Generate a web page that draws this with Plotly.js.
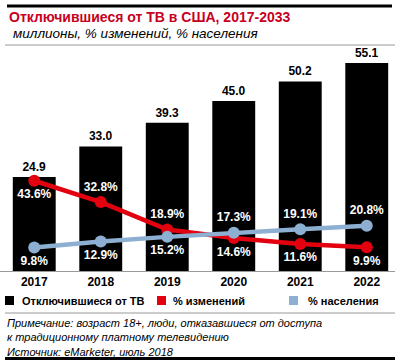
<!DOCTYPE html>
<html>
<head>
<meta charset="utf-8">
<script src="https://cdn.plot.ly/plotly-3.0.1.min.js"></script>
<style>
html,body{margin:0;padding:0;background:#fff;}
#chart{width:400px;height:360px;}
</style>
</head>
<body>
<div id="chart"></div>
<script>
var years = ['2017', '2018', '2019', '2020', '2021', '2022'];
var cordCutters = [24.9, 33.0, 39.3, 45.0, 50.2, 55.1];
var pctChange = [43.6, 32.8, 18.9, 14.6, 11.6, 9.9];
var pctPopulation = [9.8, 12.9, 15.2, 17.3, 19.1, 20.8];
var changeLabelPos = ['bottom center', 'top center', 'top center', 'bottom center', 'bottom center', 'bottom center'];
var popLabelPos = ['bottom center', 'bottom center', 'bottom center', 'top center', 'top center', 'top center'];

var FONT = 'Liberation Sans, Arial, sans-serif';
var RED = '#e3000f';
var BLUE = '#8db0d2';

var traces = [
  {
    type: 'bar', x: years, y: cordCutters, name: 'Отключившиеся от ТВ',
    marker: {color: '#000000'},
    text: cordCutters.map(function(v){return v.toFixed(1);}),
    textposition: 'outside', cliponaxis: false,
    textfont: {family: FONT, size: 12, color: '#000', weight: 'bold'},
    hoverinfo: 'none', showlegend: false
  },
  {
    type: 'scatter', mode: 'lines+markers+text', x: years, y: pctChange, yaxis: 'y2',
    name: '% изменений',
    line: {color: RED, width: 4.5},
    marker: {color: RED, size: 12},
    text: pctChange.map(function(v){return v.toFixed(1) + '%';}),
    textposition: changeLabelPos, cliponaxis: false,
    textfont: {family: FONT, size: 12, color: '#fff', weight: 'bold'},
    hoverinfo: 'none', showlegend: false
  },
  {
    type: 'scatter', mode: 'lines+markers+text', x: years, y: pctPopulation, yaxis: 'y2',
    name: '% населения',
    line: {color: BLUE, width: 4.5},
    marker: {color: BLUE, size: 12},
    text: pctPopulation.map(function(v){return v.toFixed(1) + '%';}),
    textposition: popLabelPos, cliponaxis: false,
    textfont: {family: FONT, size: 12, color: '#fff', weight: 'bold'},
    hoverinfo: 'none', showlegend: false
  }
];

var legendItems = [
  {label: 'Отключившиеся от ТВ', color: '#000000', x0: 5, tx: 20},
  {label: '% изменений', color: RED, x0: 157, tx: 171},
  {label: '% населения', color: BLUE, x0: 289, tx: 306}
];

var W = 400, H = 360;
var ML = 1, MR = 0, MT = 50, MB = 89;
var PW = W - ML - MR, PH = H - MT - MB;
function px(x){return (x - ML) / PW;}
function py(y){return (H - MB - y) / PH;}

var shapes = [
  {type: 'line', xref: 'paper', yref: 'paper', x0: px(7), x1: px(392), y0: py(6), y1: py(6), line: {color: '#000', width: 3}},
  {type: 'line', xref: 'paper', yref: 'paper', x0: px(5), x1: px(395), y0: py(45), y1: py(45), line: {color: '#999', width: 1}},
  {type: 'line', xref: 'paper', yref: 'paper', x0: px(0), x1: px(395), y0: py(271.5), y1: py(271.5), line: {color: '#999', width: 1}},
  {type: 'line', xref: 'paper', yref: 'paper', x0: px(5), x1: px(395), y0: py(313), y1: py(313), line: {color: '#999', width: 1}},
  {type: 'line', xref: 'paper', yref: 'paper', x0: px(5), x1: px(395), y0: py(358.5), y1: py(358.5), line: {color: '#000', width: 3}}
];
var annotations = [
  {xref: 'paper', yref: 'paper', x: px(7), y: py(16.5), xanchor: 'left', yanchor: 'middle', showarrow: false,
   text: '<b>Отключившиеся от ТВ в США, 2017-2033</b>', font: {family: FONT, size: 14, color: '#c8001e'}},
  {xref: 'paper', yref: 'paper', x: px(11), y: py(33), xanchor: 'left', yanchor: 'middle', showarrow: false,
   text: '<i>миллионы, % изменений, % населения</i>', font: {family: FONT, size: 13.5, color: '#000'}},
  {xref: 'paper', yref: 'paper', x: px(5), y: py(337.5), xanchor: 'left', yanchor: 'middle', showarrow: false, align: 'left',
   text: '<i>Примечание: возраст 18+, люди, отказавшиеся от доступа<br>к традиционному платному телевидению<br>Источник: eMarketer, июль 2018</i>',
   font: {family: FONT, size: 11, color: '#000'}}
];
legendItems.forEach(function(it){
  shapes.push({type: 'rect', xref: 'paper', yref: 'paper', x0: px(it.x0), x1: px(it.x0 + 9), y0: py(305), y1: py(296),
    fillcolor: it.color, line: {width: 0}});
  annotations.push({xref: 'paper', yref: 'paper', x: px(it.tx), y: py(300.5), xanchor: 'left', yanchor: 'middle', showarrow: false,
    text: '<b>' + it.label + '</b>', font: {family: FONT, size: 11, color: '#000'}});
});

var layout = {
  width: W, height: H,
  margin: {l: ML, r: MR, t: MT, b: MB},
  paper_bgcolor: '#fff', plot_bgcolor: '#fff',
  showlegend: false,
  bargap: 0.355,
  xaxis: {type: 'category', range: [-0.5, 5.5], showgrid: false, zeroline: false, showline: false,
    ticks: '', ticklabelstandoff: 2, tickfont: {family: FONT, size: 12, color: '#000', weight: 'bold'}, fixedrange: true},
  yaxis: {range: [0, 58.54], visible: false, showgrid: false, zeroline: false, fixedrange: true},
  yaxis2: {range: [-2.07, 109.77], overlaying: 'y', visible: false, showgrid: false, zeroline: false, fixedrange: true},
  shapes: shapes,
  annotations: annotations
};

Plotly.newPlot('chart', traces, layout, {staticPlot: true, displayModeBar: false});
</script>
</body>
</html>
